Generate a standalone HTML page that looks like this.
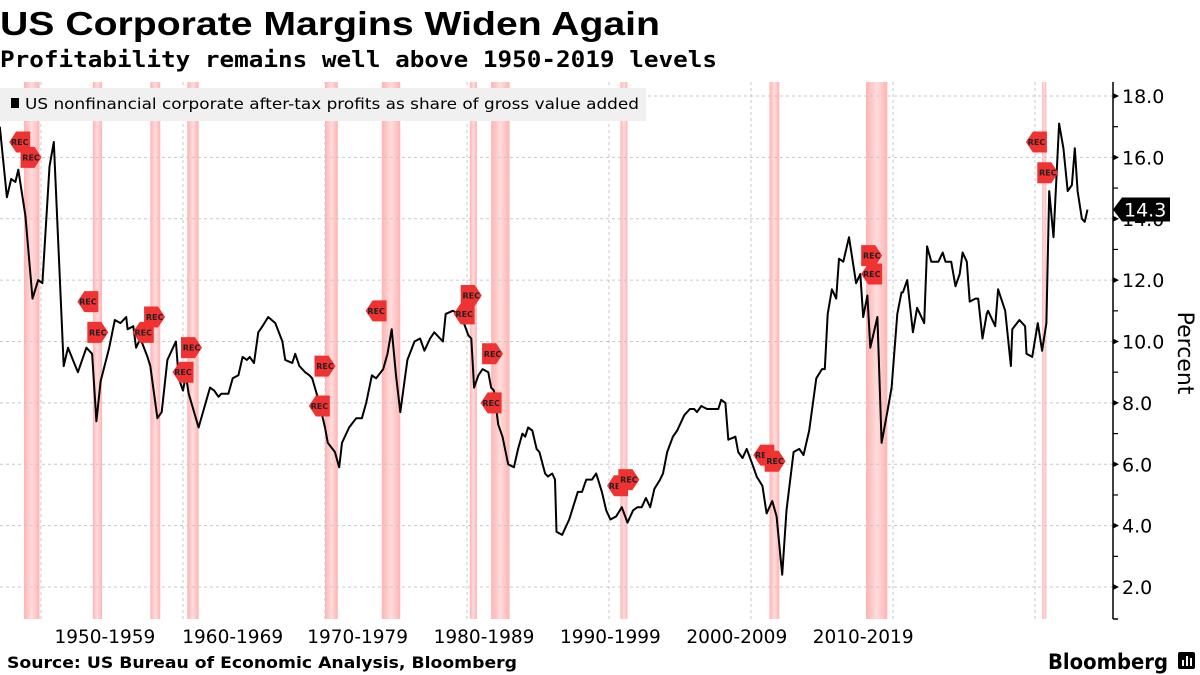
<!DOCTYPE html>
<html><head><meta charset="utf-8"><title>US Corporate Margins Widen Again</title>
<style>
html,body{margin:0;padding:0;background:#fff;}
body{width:1200px;height:675px;overflow:hidden;font-family:"Liberation Sans",sans-serif;}
svg{display:block;}
</style></head>
<body>
<svg id="chart" width="1200" height="675" viewBox="0 0 1200 675" xmlns="http://www.w3.org/2000/svg">
  <text x="0" y="35" font-family="Liberation Sans, sans-serif" font-weight="bold" font-size="33" textLength="660" lengthAdjust="spacingAndGlyphs" fill="#000">US Corporate Margins Widen Again</text>
  <text x="0" y="67" font-family="DejaVu Sans Mono, Liberation Mono, monospace" font-weight="bold" font-size="22" textLength="717" lengthAdjust="spacingAndGlyphs" fill="#000">Profitability remains well above 1950-2019 levels</text>
  <g id="bands"></g>
  <g id="grid"></g>
  <g>
    <rect x="0" y="88" width="646" height="33" fill="#f0f0f0"/>
    <rect x="11" y="98" width="8" height="10" fill="#000"/>
    <text x="25" y="109" font-family="DejaVu Sans, sans-serif" font-size="15" textLength="614" lengthAdjust="spacingAndGlyphs" fill="#000">US nonfinancial corporate after-tax profits as share of gross value added</text>
  </g>
  <g id="series"></g>
  <g id="flags"></g>
  <g id="axis"></g>
  <text transform="translate(1178,353) rotate(90)" text-anchor="middle" font-family="DejaVu Sans, sans-serif" font-size="22" fill="#000">Percent</text>
  <text x="7" y="668" font-family="DejaVu Sans, sans-serif" font-weight="bold" font-size="16" textLength="510" lengthAdjust="spacingAndGlyphs" fill="#000">Source: US Bureau of Economic Analysis, Bloomberg</text>
  <text x="1048" y="669" font-family="DejaVu Sans, sans-serif" font-weight="bold" font-size="21" textLength="120" lengthAdjust="spacingAndGlyphs" fill="#000">Bloomberg</text>
  <g>
    <rect x="1178" y="652" width="17" height="17" rx="2" fill="#000"/>
    <rect x="1182" y="660" width="2" height="6" fill="#fff"/>
    <rect x="1186" y="656" width="2" height="10" fill="#fff"/>
    <rect x="1190" y="658" width="2" height="8" fill="#fff"/>
  </g>
</svg>
<script>
const years = [1947.1,1947.6,1947.9,1948.2,1948.4,1948.9,1949.4,1949.8,1950.1,1950.6,1950.9,1951.6,1951.9,1952.6,1953.2,1953.6,1953.9,1954.2,1954.8,1955.2,1955.6,1956.0,1956.1,1956.5,1956.7,1957.0,1957.5,1957.7,1958.2,1958.5,1958.9,1959.5,1959.7,1960.0,1960.2,1960.4,1961.1,1961.9,1962.2,1962.5,1962.7,1963.2,1963.5,1963.9,1964.2,1964.5,1964.7,1965.0,1965.3,1965.6,1966.0,1966.5,1967.0,1967.2,1967.7,1967.9,1968.2,1968.6,1968.9,1969.1,1969.6,1970.0,1970.2,1970.7,1971.0,1971.2,1971.7,1972.2,1972.6,1972.9,1973.3,1973.6,1974.1,1974.4,1974.7,1975.0,1975.3,1975.8,1976.3,1976.7,1977.0,1977.4,1977.7,1977.9,1978.3,1978.5,1979.0,1979.4,1979.7,1980.1,1980.3,1980.5,1980.8,1981.1,1981.5,1981.7,1981.9,1982.2,1982.5,1982.9,1983.3,1983.6,1983.9,1984.1,1984.3,1984.6,1984.9,1985.1,1985.5,1985.7,1986.0,1986.2,1986.3,1986.7,1987.2,1987.8,1988.1,1988.4,1988.8,1989.1,1989.5,1989.8,1990.1,1990.5,1990.9,1991.3,1991.7,1992.0,1992.3,1992.6,1992.9,1993.2,1993.6,1993.8,1994.1,1994.5,1994.8,1995.3,1995.7,1996.0,1996.2,1996.5,1996.9,1997.1,1997.7,1997.9,1998.2,1998.4,1998.9,1999.1,1999.4,1999.7,2000.1,2000.4,2000.8,2001.1,2001.5,2001.8,2002.2,2002.5,2003.0,2003.4,2003.7,2004.1,2004.6,2005.0,2005.2,2005.4,2005.7,2006.0,2006.2,2006.5,2006.9,2007.4,2007.7,2007.9,2008.2,2008.4,2008.9,2009.2,2009.6,2009.9,2010.3,2010.6,2010.7,2011.0,2011.4,2011.7,2012.2,2012.4,2012.7,2013.2,2013.5,2013.7,2014.1,2014.4,2014.7,2014.9,2015.2,2015.4,2015.8,2016.0,2016.3,2016.6,2016.7,2017.2,2017.4,2017.9,2018.3,2018.4,2018.9,2019.3,2019.4,2019.8,2020.2,2020.5,2020.8,2021.0,2021.3,2021.7,2022.0,2022.3,2022.6,2022.8,2023.0,2023.3,2023.5,2023.7];
const profitShare = [17.0,14.7,15.3,15.2,15.6,14.1,11.4,12.0,11.9,15.7,16.5,9.2,9.8,9.0,9.8,9.6,7.4,8.7,9.8,10.7,10.6,10.8,10.4,10.5,9.8,10.1,9.5,9.2,7.5,7.7,9.4,10.0,8.8,8.4,8.9,8.3,7.2,8.5,8.4,8.2,8.3,8.3,8.8,8.9,9.5,9.4,9.5,9.3,10.3,10.5,10.8,10.6,10.0,9.4,9.3,9.6,9.2,9.0,8.9,8.8,8.0,7.2,6.7,6.4,5.9,6.7,7.2,7.5,7.5,8.0,8.9,8.8,9.1,9.6,10.4,8.9,7.7,9.4,10.0,10.1,9.7,10.1,10.3,10.2,10.0,10.9,11.0,10.9,10.7,10.2,10.1,8.5,8.9,9.1,9.0,8.5,8.4,7.3,6.9,6.0,5.9,6.5,7.0,6.9,7.2,7.1,6.5,6.4,5.7,5.6,5.7,5.5,3.8,3.7,4.2,5.1,5.1,5.5,5.5,5.7,5.1,4.5,4.2,4.3,4.6,4.1,4.5,4.6,4.6,4.9,4.6,5.2,5.5,5.7,6.4,6.9,7.1,7.6,7.8,7.8,7.7,7.9,7.8,7.8,7.8,8.1,8.0,6.8,6.9,6.4,6.2,6.5,6.0,5.6,5.3,4.4,4.8,4.3,2.4,4.5,6.4,6.5,6.3,7.1,8.8,9.1,9.1,10.9,11.7,11.4,12.7,12.6,13.4,11.9,12.2,10.8,11.5,9.8,10.8,6.7,7.7,8.5,10.9,11.6,11.6,12.0,10.3,11.1,10.6,13.1,12.6,12.6,12.9,12.6,12.6,11.8,12.2,12.9,12.6,11.3,11.4,11.4,10.1,10.9,11.0,10.5,11.7,11.0,9.2,10.4,10.7,10.5,9.6,9.5,10.6,9.7,10.6,14.9,13.4,17.1,16.3,14.9,15.1,16.3,14.9,14.0,13.9,14.3];
const recStart = [1948.8,1953.65,1957.7,1960.3,1970.0,1974.0,1980.2,1981.7,1990.8,2001.3,2008.1,2020.5];
const recEnd   = [1949.9,1954.3,1958.4,1961.1,1970.9,1975.3,1980.7,1983.0,1991.3,2002.0,2009.6,2020.8];
const yTicks = [2,4,6,8,10,12,14,16,18];
const yTickLabels = ["2.0","4.0","6.0","8.0","10.0","12.0","14.0","16.0","18.0"];
const decadeGrid = [1950,1960,1970,1980,1990,2000,2010,2020];
const decadeLabels = ["1950-1959","1960-1969","1970-1979","1980-1989","1990-1999","2000-2009","2010-2019"];
const decadeLabelYears = [1954.5,1963.5,1972.3,1981.2,1990.1,1999.0,2007.9];
// REC flag annotations: year, level (percent), direction
const flagYears  = [1948.5,1949.3,1953.3,1954.0,1958.0,1957.2,1960.6,1960.0,1970.0,1969.6,1973.6,1980.3,1979.8,1981.8,1981.7,1990.6,1991.4,2000.9,2001.7,2008.5,2008.5,2020.1,2020.9];
const flagLevels = [16.5,16.0,11.3,10.3,10.8,10.3,9.8,9.0,9.2,7.9,11.0,11.5,10.9,9.6,8.0,5.3,5.5,6.3,6.1,12.8,12.2,16.5,15.5];
const flagDirs   = ["L","R","L","R","R","L","R","L","R","L","L","R","L","R","L","L","R","L","R","R","L","L","R"];

const NS = "http://www.w3.org/2000/svg";
const X0 = 467, PXY = 14.2, Y18 = 96, PXV = 30.69;
const PLOT_L = 0, PLOT_R = 1113, PLOT_T = 82, PLOT_B = 619;
function xS(yr){ return X0 + (yr - 1980) * PXY; }
function yS(v){ return Y18 + (18 - v) * PXV; }
function mk(tag, attrs, parent){ const e = document.createElementNS(NS, tag); for (const k in attrs) e.setAttribute(k, attrs[k]); parent.appendChild(e); return e; }

// recession bands
const bands = document.getElementById('bands');
const defs = mk('defs', {}, bands);
const lg = mk('linearGradient', {id:'bandGrad', x1:'0', x2:'1', y1:'0', y2:'0'}, defs);
mk('stop', {offset:'0', 'stop-color':'#ffb3b3'}, lg);
mk('stop', {offset:'0.5', 'stop-color':'#ffdcdc'}, lg);
mk('stop', {offset:'1', 'stop-color':'#ffb3b3'}, lg);
for (let i = 0; i < recStart.length; i++) {
  const r = mk('rect', {x: xS(recStart[i]), y: PLOT_T, width: Math.max(2, xS(recEnd[i]) - xS(recStart[i])), height: PLOT_B - PLOT_T, fill: 'url(#bandGrad)'}, bands);
  
  
}

// grid
const grid = document.getElementById('grid');
yTicks.forEach(v => {
  const l = mk('line', {x1: PLOT_L, x2: PLOT_R, y1: yS(v), y2: yS(v), stroke:'#c8c8c8', 'stroke-width':1, 'stroke-dasharray':'3,3'}, grid);
  
  
});
decadeGrid.forEach(yr => {
  const l = mk('line', {x1: xS(yr), x2: xS(yr), y1: PLOT_T, y2: PLOT_B, stroke:'#c8c8c8', 'stroke-width':1, 'stroke-dasharray':'3,3'}, grid);
  
  
});

// series line
const series = document.getElementById('series');
let d = '';
for (let i = 0; i < years.length; i++) d += (i ? 'L' : 'M') + xS(years[i]).toFixed(1) + ',' + yS(profitShare[i]).toFixed(1);
const path = mk('path', {d: d, fill:'none', stroke:'#000', 'stroke-width':2, 'stroke-linejoin':'round'}, series);



// flags
const flags = document.getElementById('flags');
for (let i = 0; i < flagYears.length; i++) {
  const cx = xS(flagYears[i]), cy = yS(flagLevels[i]);
  const g = mk('g', {}, flags);
  
  
  const w = 21, h = 21, l = cx - w / 2, t = cy - h / 2;
  let pts;
  if (flagDirs[i] === 'L') pts = [[l, cy], [l + 7, t], [l + w, t], [l + w, t + h], [l + 7, t + h]];
  else pts = [[l, t], [l + w - 7, t], [l + w, cy], [l + w - 7, t + h], [l, t + h]];
  mk('polygon', {points: pts.map(p => p.join(',')).join(' '), fill:'#f03232'}, g);
  const tx = mk('text', {x: cx, y: cy + 3, 'text-anchor':'middle', 'font-family':'DejaVu Sans, sans-serif', 'font-weight':'bold', 'font-size':8, fill:'#222'}, g);
  tx.textContent = 'REC';
}

// axis
const axis = document.getElementById('axis');
const al = mk('line', {x1: PLOT_R, x2: PLOT_R, y1: PLOT_T, y2: PLOT_B, stroke:'#000', 'stroke-width':1.5}, axis);


mk('line', {x1: PLOT_R, x2: PLOT_R + 5, y1: PLOT_B, y2: PLOT_B, stroke:'#000', 'stroke-width':1.5}, axis);
for (let v = 3; v <= 17; v += 2) mk('line', {x1: PLOT_R, x2: PLOT_R + 5, y1: yS(v), y2: yS(v), stroke:'#000', 'stroke-width':1.2}, axis);
yTicks.forEach((v, i) => {
  mk('polygon', {points: `${PLOT_R},${yS(v)-3} ${PLOT_R+6},${yS(v)} ${PLOT_R},${yS(v)+3}`, fill:'#000'}, axis);
  const t = mk('text', {x: PLOT_R + 9, y: yS(v) + 7, 'font-family':'DejaVu Sans, sans-serif', 'font-size':19, fill:'#000'}, axis);
  
  
  t.textContent = yTickLabels[i];
});
decadeLabels.forEach((s, i) => {
  const t = mk('text', {x: xS(decadeLabelYears[i]), y: 643, 'text-anchor':'middle', 'font-family':'DejaVu Sans, sans-serif', 'font-size':18.5, fill:'#000'}, axis);
  
  
  t.textContent = s;
});
// last value badge
const lastV = profitShare[profitShare.length - 1];
const by = yS(lastV);
const badge = mk('g', {}, axis);


mk('polygon', {points: `${PLOT_R},${by} ${PLOT_R+9},${by-12} ${PLOT_R+57},${by-12} ${PLOT_R+57},${by+12} ${PLOT_R+9},${by+12}`, fill:'#000'}, badge);
const bt = mk('text', {x: PLOT_R + 11, y: by + 7, 'font-family':'DejaVu Sans, sans-serif', 'font-size':19, fill:'#fff'}, badge);
bt.textContent = lastV.toFixed(1);
</script>
</body></html>
